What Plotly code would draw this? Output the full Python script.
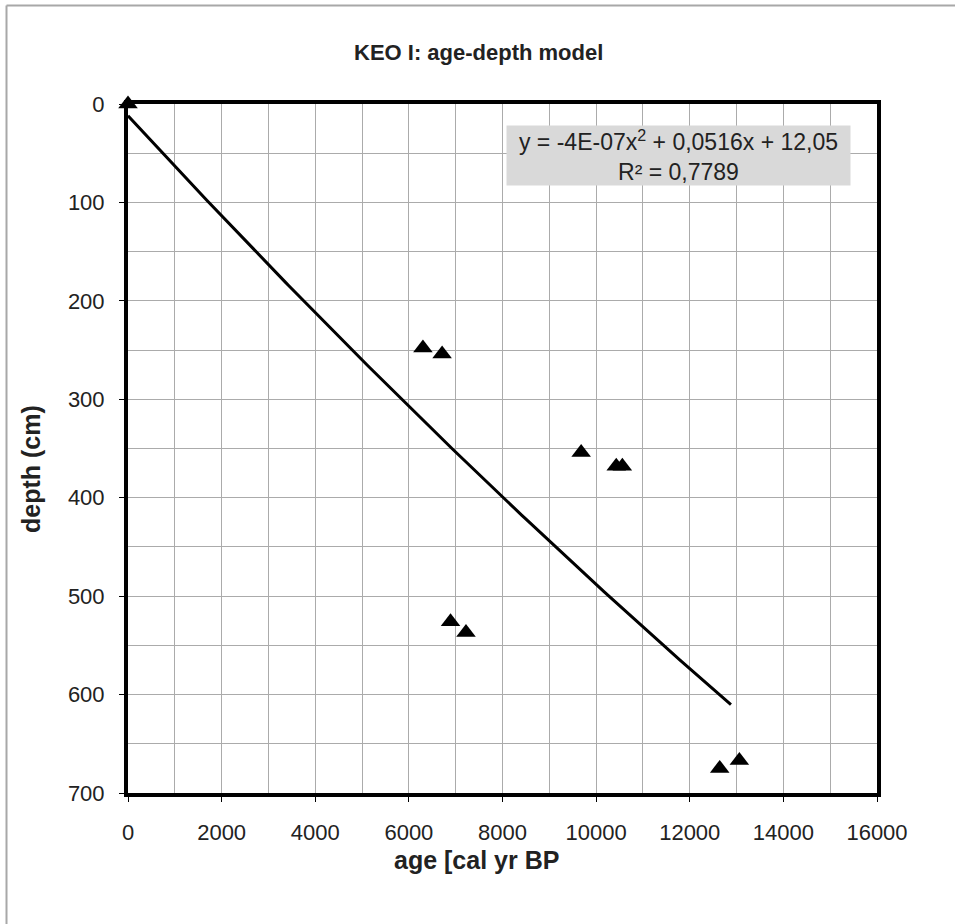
import numpy as np
import plotly.graph_objects as go

# Data
age = [0, 6300, 6710, 9680, 10430, 10560, 6890, 7220, 12640, 13060]
depth = [0, 248, 254, 354, 368, 368, 526, 537, 675, 667]

# Polynomial trendline coefficients (as shown in the chart)
coef_a = -4e-07
coef_b = 0.0516
coef_c = 12.05
trend_end = 12880
trend_x = np.linspace(0, trend_end, 200)
trend_y = coef_a * trend_x**2 + coef_b * trend_x + coef_c

x_ticks = [0, 2000, 4000, 6000, 8000, 10000, 12000, 14000, 16000]
y_ticks = [0, 100, 200, 300, 400, 500, 600, 700]

W, H = 955, 924
L, R, T, B = 128, 78, 104, 131
pw, ph = W - L - R, H - T - B

def px2x(px):
    return (px - L) / pw

def py2y(py):
    return (H - B - py) / ph

FONT = "Liberation Sans, Arial, sans-serif"
TXT = "#222"

fig = go.Figure()
fig.add_trace(go.Scatter(
    x=trend_x, y=trend_y, mode="lines",
    line=dict(color="black", width=3), hoverinfo="skip", showlegend=False))
fig.add_trace(go.Scatter(
    x=age, y=depth, mode="markers",
    marker=dict(symbol="triangle-up", size=17, color="black"),
    showlegend=False, cliponaxis=False))

fig.update_layout(
    width=W, height=H,
    margin=dict(l=L, r=R, t=T, b=B),
    paper_bgcolor="white", plot_bgcolor="white",
    font=dict(family=FONT, size=22, color=TXT),
    showlegend=False,
)
GRID = "#ababab"
fig.update_xaxes(
    range=[0, 16000], tickvals=x_ticks, ticktext=[str(v) for v in x_ticks],
    showgrid=True, gridcolor=GRID, gridwidth=1,
    minor=dict(dtick=1000, showgrid=True, gridcolor=GRID, gridwidth=1),
    showline=True, linecolor="black", linewidth=4, mirror=True,
    ticks="outside", ticklen=5, tickcolor="black", tickwidth=1,
    ticklabelstandoff=12, zeroline=False,
    tickfont=dict(size=22, family=FONT, color=TXT),
)
fig.update_yaxes(
    range=[700, 0], tickvals=y_ticks, ticktext=[str(v) for v in y_ticks],
    showgrid=True, gridcolor=GRID, gridwidth=1,
    minor=dict(dtick=50, showgrid=True, gridcolor=GRID, gridwidth=1),
    showline=True, linecolor="black", linewidth=4, mirror=True,
    ticks="outside", ticklen=5, tickcolor="black", tickwidth=1,
    ticklabelstandoff=10, zeroline=False,
    tickfont=dict(size=22, family=FONT, color=TXT),
)

annotations = [
    dict(text="<b>KEO I: age-depth model</b>", xref="paper", yref="paper",
         x=px2x(478), y=py2y(52), showarrow=False, xanchor="center", yanchor="middle",
         font=dict(size=22, family=FONT, color=TXT)),
    dict(text="<b>age [cal yr BP</b>", xref="paper", yref="paper",
         x=px2x(476), y=py2y(860), showarrow=False, xanchor="center", yanchor="middle",
         font=dict(size=25, family=FONT, color=TXT)),
    dict(text="<b>depth (cm)</b>", xref="paper", yref="paper",
         x=px2x(31), y=py2y(469), showarrow=False, xanchor="center", yanchor="middle",
         textangle=-90, font=dict(size=25, family=FONT, color=TXT)),
    dict(text="y = -4E-07x<sup>2</sup> + 0,0516x + 12,05<br>R² = 0,7789",
         xref="paper", yref="paper", x=px2x(678), y=py2y(155),
         showarrow=False, xanchor="center", yanchor="middle",
         bgcolor="#d9d9d9", width=339, height=55, borderpad=2, align="center",
         font=dict(size=23, family=FONT, color=TXT)),
]
fig.update_layout(annotations=annotations)

fig.add_shape(type="line", xref="paper", yref="paper",
              x0=px2x(6.5), x1=px2x(960), y0=py2y(5.5), y1=py2y(5.5),
              line=dict(color="#a8a8a8", width=2))
fig.add_shape(type="line", xref="paper", yref="paper",
              x0=px2x(6.5), x1=px2x(6.5), y0=py2y(5.5), y1=py2y(930),
              line=dict(color="#a8a8a8", width=2))

fig.write_html("out.html",
               config={"displayModeBar": False},
               post_script="document.body.style.margin='0';document.body.style.overflow='hidden';")
